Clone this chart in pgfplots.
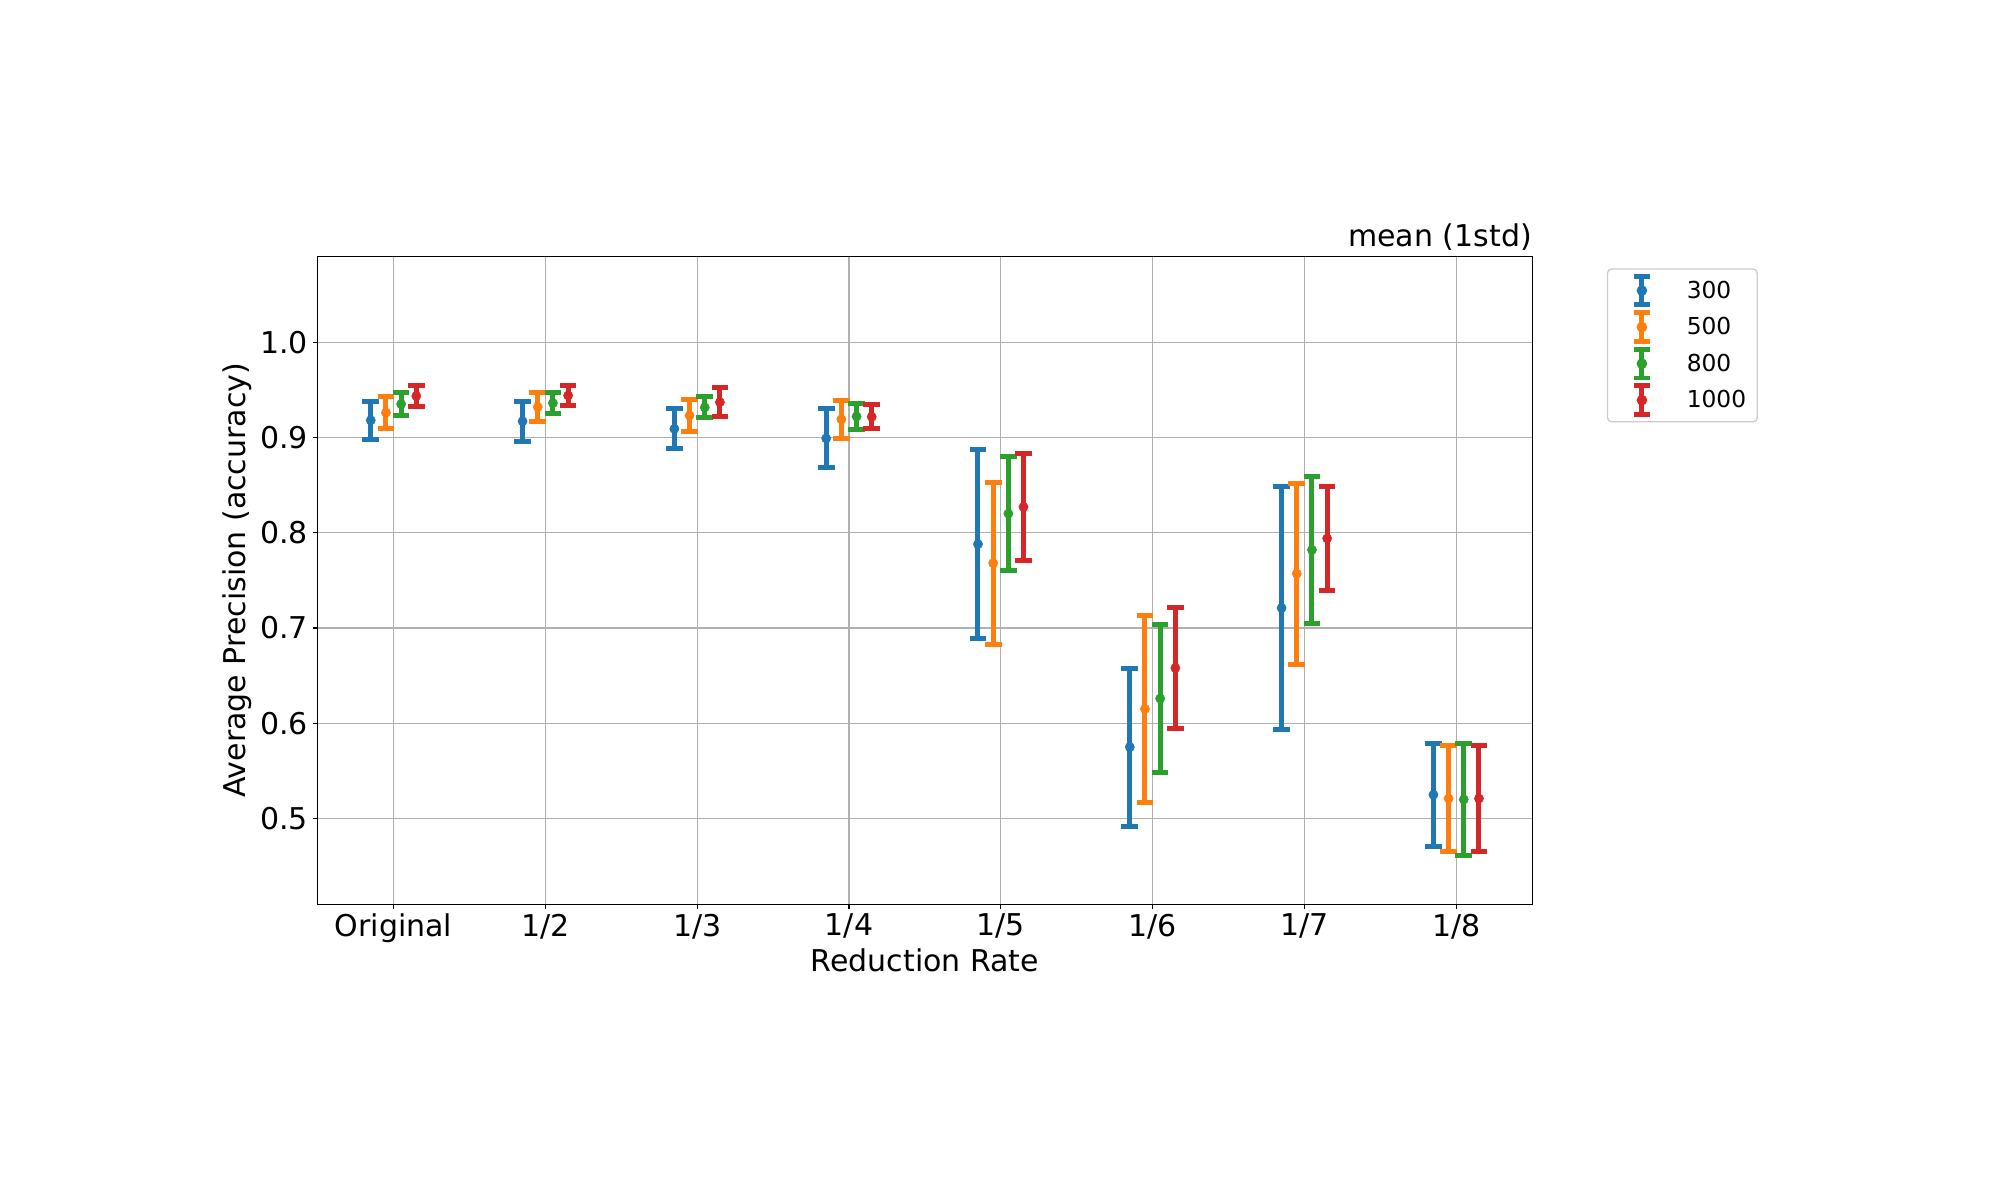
\documentclass[border=0pt]{standalone}
\usepackage{pgfplots}
\pgfplotsset{compat=1.18}
\usepackage{pgfplotstable}
\usepackage{fontspec}
\setmainfont{DejaVu Sans}
\definecolor{c300}{HTML}{1F77B4}
\definecolor{c500}{HTML}{FF7F0E}
\definecolor{c800}{HTML}{2CA02C}
\definecolor{c1000}{HTML}{D62728}
\definecolor{gridc}{HTML}{B0B0B0}
\definecolor{legc}{HTML}{CCCCCC}

\pgfplotstableread{
x y e
-0.15 0.918 0.020
0.85 0.917 0.021
1.85 0.909 0.021
2.85 0.899 0.031
3.85 0.788 0.0995
4.85 0.575 0.083
5.85 0.721 0.128
6.85 0.525 0.054
}\tA
\pgfplotstableread{
x y e
-0.05 0.926 0.017
0.95 0.932 0.015
1.95 0.923 0.017
2.95 0.919 0.020
3.95 0.768 0.085
4.95 0.615 0.098
5.95 0.757 0.095
6.95 0.521 0.056
}\tB
\pgfplotstableread{
x y e
0.05 0.935 0.012
1.05 0.936 0.011
2.05 0.9315 0.011
3.05 0.922 0.014
4.05 0.820 0.060
5.05 0.626 0.078
6.05 0.782 0.077
7.05 0.520 0.059
}\tC
\pgfplotstableread{
x y e
0.15 0.9435 0.0107
1.15 0.944 0.010
2.15 0.937 0.015
3.15 0.9216 0.0126
4.15 0.827 0.056
5.15 0.658 0.064
6.15 0.794 0.055
7.15 0.521 0.056
}\tD

\begin{document}
\begin{tikzpicture}
\path[use as bounding box] (-228.7bp,-212.9bp) rectangle (1211.3bp,651.1bp);
\begin{axis}[
  at={(0,0)}, anchor=south west,
  scale only axis, width=874.4bp, height=466.5bp,
  xmin=-0.5, xmax=7.5, ymin=0.41, ymax=1.09,
  xtick={0,1,2,3,4,5,6,7},
  xticklabels={Original,1/2,1/3,1/4,1/5,1/6,1/7,1/8},
  ytick={0.5,0.6,0.7,0.8,0.9,1.0},
  yticklabel style={/pgf/number format/fixed, /pgf/number format/fixed zerofill, /pgf/number format/precision=1},
  /pgf/number format/assume math mode=true,
  tick pos=left, tick align=outside, major tick length=3.5bp,
  every tick/.style={black, line width=0.8bp},
  axis line style={line width=0.8bp},
  grid=major, grid style={gridc, line width=0.8bp},
  tick label style={font=\fontsize{21.6bp}{26bp}\selectfont},
  label style={font=\fontsize{21.6bp}{26bp}\selectfont},
  xlabel={Reduction Rate},
  ylabel={Average Precision (accuracy)},
  xlabel style={at={(axis description cs:0.5,-0.086)}, anchor=center, inner sep=0pt},
  ylabel style={at={(axis description cs:-0.0664,0.5)}, anchor=center, inner sep=0pt},
  title={mean (1std)},
  title style={at={(axis description cs:1,1)}, anchor=base east, yshift=1.5bp, inner sep=0pt, font=\fontsize{21.6bp}{26bp}\selectfont},
  legend cell align=left,
  legend style={at={(1.0615,0.9816)}, anchor=north west, draw=legc, fill=white,
    rounded corners=3bp, line width=1bp,
    font=\fontsize{16.8bp}{20bp}\selectfont,
    inner xsep=8bp, inner ysep=2.4bp, row sep=0pt, column sep=15.5bp,
    nodes={inner sep=0pt}},
  legend image code/.code={
    \path[draw=none, fill=none] (-16.8bp,-13.15bp) rectangle (16.8bp,13.15bp);
    \draw[#1, line width=3.5bp, mark=none] (0bp,-10.3bp) -- (0bp,10.3bp)
       (-6bp,-10.3bp) -- (6bp,-10.3bp) (-6bp,10.3bp) -- (6bp,10.3bp);
    \fill[#1] (0bp,0bp) circle (3.3bp);
  },
  every axis plot/.append style={only marks, mark=*, mark size=3.3bp,
    error bars/y dir=both, error bars/y explicit,
    error bars/error bar style={line width=3.6bp},
    error bars/error mark options={rotate=90, line width=3.6bp, mark size=6bp}},
]
\addplot[c300] table[x=x, y=y, y error=e] {\tA};
\addlegendentry{300}
\addplot[c500] table[x=x, y=y, y error=e] {\tB};
\addlegendentry{500}
\addplot[c800] table[x=x, y=y, y error=e] {\tC};
\addlegendentry{800}
\addplot[c1000] table[x=x, y=y, y error=e] {\tD};
\addlegendentry{1000}
\end{axis}
\end{tikzpicture}
\end{document}
